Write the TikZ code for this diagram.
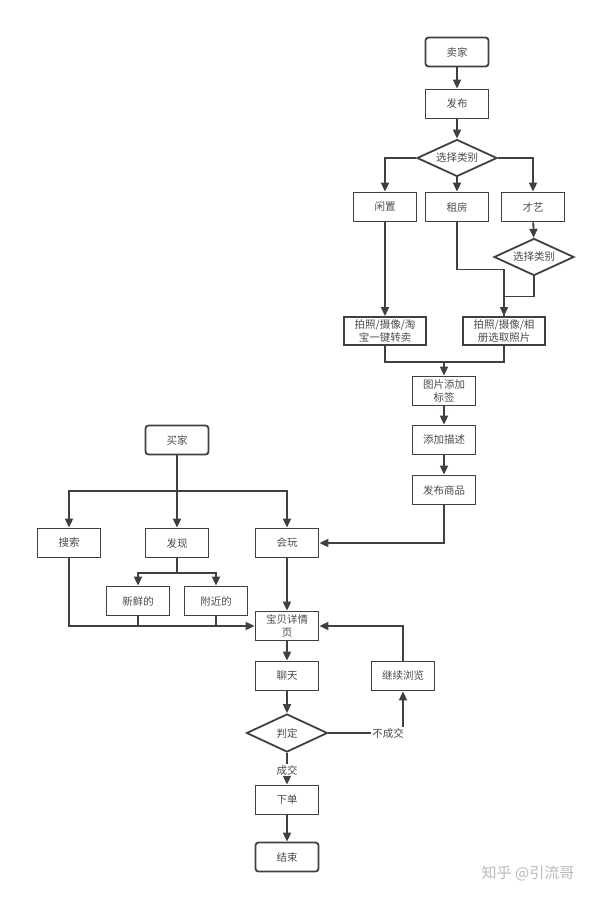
\documentclass[tikz,border=0pt]{standalone}
\usepackage{fontspec}
\setmainfont{Noto Sans CJK SC}
\usetikzlibrary{shapes.geometric,arrows.meta}
\definecolor{linegray}{HTML}{404040}
\definecolor{textgray}{HTML}{4A4A4A}

\begin{document}
\begin{tikzpicture}[x=1pt, y=-1pt,
    every node/.style={text=textgray, font=\fontsize{10.5}{13}\selectfont},
    box/.style={rectangle, draw=linegray, line width=1.8pt, minimum width=63pt, minimum height=29pt, inner sep=0pt, align=center},
    wide/.style={box, minimum width=82pt, minimum height=28pt},
    roundbox/.style={box, rounded corners=3pt},
    choice/.style={diamond, draw=linegray, line width=1.8pt, minimum width=80pt, minimum height=37pt, inner sep=0pt, aspect=2},
    arr/.style={draw=linegray, line width=1.8pt, -{Triangle[length=9pt,width=8pt]}},
    link/.style={draw=linegray, line width=1.8pt},
    tag/.style={fill=white, inner sep=1pt}]
    \useasboundingbox (0,0) rectangle (600,897);

    % seller side
    \node[roundbox] (seller) at (457, 52) {卖家};
    \node[box] (publish) at (457, 104) {发布};
    \node[choice] (cat) at (457, 158) {选择类别};
    \node[box] (idle) at (385, 207) {闲置};
    \node[box] (rent) at (457, 207) {租房};
    \node[box] (talent) at (533, 207) {才艺};
    \node[choice] (cat2) at (534, 257) {选择类别};
    \node[wide] (photoA) at (385, 331) {拍照/摄像/淘\\宝一键转卖};
    \node[wide] (photoB) at (504, 331) {拍照/摄像/相\\册选取照片};
    \coordinate (merge) at (444, 361);
    \node[box] (label) at (444, 391) {图片添加\\标签};
    \node[box] (describe) at (444, 440) {添加描述};
    \node[box] (post) at (444, 490) {发布商品};

    % buyer side
    \node[roundbox] (buyer) at (177, 440) {买家};
    \coordinate (split) at (177, 491);
    \node[box] (search) at (69, 543) {搜索};
    \node[box] (discover) at (177, 543) {发现};
    \node[box] (play) at (287, 543) {会玩};
    \coordinate (split2) at (177, 573);
    \node[box] (fresh) at (138, 601) {新鲜的};
    \node[box] (nearby) at (216, 601) {附近的};
    \node[box] (detail) at (287, 626) {宝贝详情\\页};
    \node[box] (chat) at (287, 676) {聊天};
    \node[box] (browse) at (403, 676) {继续浏览};
    \node[choice, minimum width=81pt, minimum height=38pt] (judge) at (287, 733) {判定};
    \node[box] (order) at (287, 800) {下单};
    \node[roundbox] (finish) at (287, 857) {结束};

    \node[text=gray!55, font=\fontsize{15}{18}\selectfont] (mark) at (528, 873) {知乎 @引流哥};

    % seller links
    \draw[arr] (seller) -- (publish);
    \draw[arr] (publish) -- (cat);
    \draw[arr] (cat.west) -| (idle);
    \draw[arr] (cat) -- (rent);
    \draw[arr] (cat.east) -| (talent);
    \draw[arr] (talent) -- (cat2);
    \draw[arr] (idle) -- (photoA);
    \draw[arr] (rent.south) -- ++(0, 47) -| (photoB.north);
    \draw[link] (cat2.south) -- ++(0, 20) -| (photoB.north);
    \draw[link] (photoA.south) -- ++(0, 16) -| (photoB.south);
    \draw[arr] (merge) -- (label);
    \draw[arr] (label) -- (describe);
    \draw[arr] (describe) -- (post);
    \draw[arr] (post.south) |- (play.east);

    % buyer links
    \draw[link] (buyer) -- (split);
    \draw[arr] (split) -| (search);
    \draw[arr] (split) -- (discover);
    \draw[arr] (split) -| (play);
    \draw[link] (discover) -- (split2);
    \draw[arr] (split2) -| (fresh);
    \draw[arr] (split2) -| (nearby);
    \draw[arr] (search.south) |- (detail.west);
    \draw[link] (fresh.south) -- (fresh.south |- detail.west);
    \draw[link] (nearby.south) -- (nearby.south |- detail.west);
    \draw[arr] (play) -- (detail);
    \draw[arr] (detail) -- (chat);
    \draw[arr] (chat) -- (judge);
    \draw[arr] (judge.east) -| node[tag, pos=0.4] {不成交} (browse);
    \draw[arr] (browse.north) |- (detail.east);
    \draw[arr] (judge) -- node[tag, pos=0.55] {成交} (order);
    \draw[arr] (order) -- (finish);
\end{tikzpicture}
\end{document}
